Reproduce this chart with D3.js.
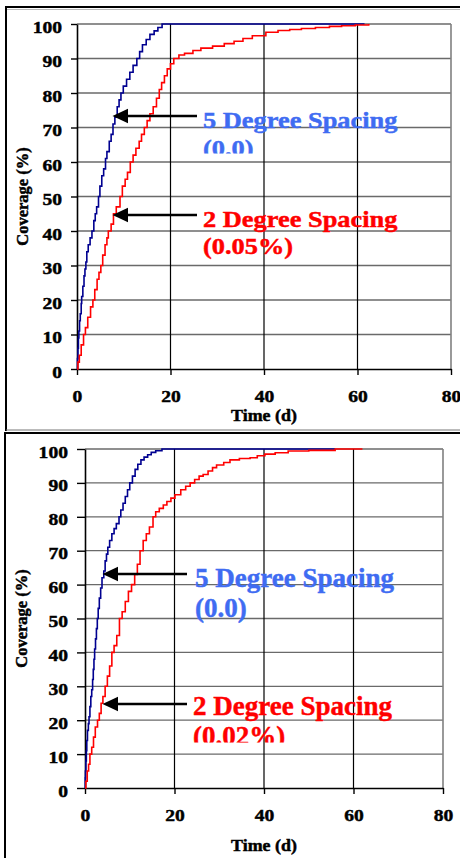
<!DOCTYPE html>
<html>
<head>
<meta charset="utf-8">
<script src="https://cdn.jsdelivr.net/npm/d3@7"></script>
<style>
  html, body { margin: 0; padding: 0; background: #fff; }
  svg { display: block; }
  text { font-family: "Liberation Serif", "Times New Roman", serif; font-weight: bold; }
</style>
</head>
<body>
<svg id="chart" width="460" height="858"></svg>
<script>
// ---------- DATA ----------
const timeTicks = [0, 20, 40, 60, 80];
const coverageTicks = [0, 10, 20, 30, 40, 50, 60, 70, 80, 90, 100];
const xTitle = "Time (d)";
const yTitle = "Coverage (%)";

// Panel 1 series: [time (d), coverage (%)]
const p1Blue = [[0,0],[0.1,3],[0.2,6],[0.3,9],[0.4,11],[0.55,14],[0.7,16],[0.9,19],[1.0,21],[1.25,24],[1.5,27],[1.7,29],[1.9,31],[2.1,34],[2.4,36],[2.8,38],[3.2,40],[3.6,43],[3.9,45],[4.2,47],[4.6,50],[4.9,53],[5.3,56],[5.7,58],[6.1,61],[6.4,63],[6.9,66],[7.3,68],[7.7,71],[8.1,73],[8.6,76],[9.0,78],[9.4,80],[9.9,82],[10.6,84],[11.3,86],[12.0,88],[12.8,90],[13.4,92],[14.0,94],[14.8,95.5],[15.6,97],[16.5,98],[17.3,99],[18.2,100],[61.5,100]];
const p1Red = [[0,0],[0.2,2],[0.5,4],[0.9,7],[1.4,10],[1.8,12],[2.3,15],[2.9,18],[3.4,20],[3.8,23],[4.3,26],[4.7,28],[5.1,30],[5.5,33],[6.0,36],[6.4,38],[6.7,40],[7.3,42],[7.8,45],[8.4,47],[9.2,50],[9.7,53],[10.3,55],[10.8,57],[11.4,60],[12.0,62],[12.6,64],[13.3,66],[13.8,68],[14.4,70],[15.0,72],[15.6,74],[16.3,76],[17.0,78.5],[17.6,81],[18.1,83],[18.7,85],[19.3,87],[20.0,88.5],[20.7,90],[21.8,91],[23.0,91.5],[24.8,92.3],[26.5,93],[29.0,93.6],[31.5,94.3],[33.6,95],[35.5,95.8],[37.5,96.6],[40.4,97.6],[43.0,98.1],[45.5,98.4],[48,98.7],[51,99.0],[54,99.3],[56.6,99.5],[59.5,99.7],[62.4,100]];
const p1BlueLabel = ["5 Degree Spacing", "(0.0)"];
const p1RedLabel = ["2 Degree Spacing", "(0.05%)"];

// Panel 2 series: [time (d), coverage (%)]
const p2Blue = [[0,0],[0.05,3],[0.1,5],[0.2,8],[0.3,11],[0.4,14],[0.55,17],[0.75,19],[0.9,21],[1.1,24],[1.3,27],[1.5,29],[1.7,32],[1.85,35],[2.0,38],[2.15,41],[2.35,44],[2.55,47],[2.75,50],[2.95,53],[3.2,56],[3.5,59],[3.8,62],[4.2,64],[4.5,67],[4.8,69],[5.1,71],[5.5,73],[6.0,75],[6.5,76.5],[7.0,78],[7.6,80],[8.0,82],[8.5,84],[9.0,86],[9.5,88],[10.0,90],[10.6,92],[11.2,94],[11.8,95.5],[12.5,96.8],[13.2,97.6],[14.0,98.3],[14.8,99.0],[15.8,99.5],[17.2,100],[55.9,100]];
const p2Red = [[0,0],[0.2,2],[0.5,5],[0.8,7],[1.1,10],[1.5,12],[1.9,15],[2.3,18],[2.8,20],[3.2,22],[3.6,25],[4.0,27],[4.5,30],[5.0,33],[5.5,36],[6.0,40],[6.5,42],[7.1,45],[7.7,50],[8.3,52],[9.0,55],[9.7,58],[10.4,60],[11.1,63],[11.7,66],[12.3,70],[13.0,73],[13.7,75],[14.4,77],[15.2,80],[15.8,81.5],[16.6,82.5],[17.5,83.5],[18.3,84.5],[19.2,85.5],[20.1,86.5],[21.4,88],[22.5,89],[23.5,90],[24.5,91],[25.5,92],[26.4,92.5],[27.5,93.5],[28.5,94.5],[29.4,95.3],[31.0,96],[32.4,96.8],[34.5,97.2],[36.9,97.4],[38.5,98.0],[40.2,98.5],[42.5,98.9],[45.4,99.4],[50,99.6],[55.9,100],[62,100]];
const p2BlueLabel = ["5 Degree Spacing", "(0.0)"];
const p2RedLabel = ["2 Degree Spacing", "(0.02%)"];

// ---------- STYLE / LAYOUT ----------
const NAVY = "#000090", RED = "#ff0000", LBLUE = "#3f6cf2";
const FONT = '"Liberation Serif", "Times New Roman", Tinos, serif';
const svg = d3.select("#chart");

// outer frames
svg.append("path").attr("d", "M6,431 V7 H461").attr("fill", "none").attr("stroke", "#000").attr("stroke-width", 2);
svg.append("line").attr("x1", 7).attr("x2", 460).attr("y1", 9.5).attr("y2", 9.5).attr("stroke", "#bbb").attr("stroke-width", 1);
svg.append("line").attr("x1", 6).attr("x2", 460).attr("y1", 430).attr("y2", 430).attr("stroke", "#777").attr("stroke-width", 1);
svg.append("path").attr("d", "M5,859 V433 H461").attr("fill", "none").attr("stroke", "#000").attr("stroke-width", 2);

function heavy(sel, color) {
  return sel.attr("font-family", FONT).attr("font-weight", "bold")
    .attr("fill", color).attr("stroke", color).attr("stroke-width", 0.45);
}

let clipId = 0;
function drawPanel(cfg) {
  const x = d3.scaleLinear().domain([0, 80]).range([cfg.x0, cfg.x1]);
  const y = d3.scaleLinear().domain([0, 100]).range([cfg.y0, cfg.y1]);
  const g = svg.append("g");

  // horizontal grid
  g.append("g").selectAll("line").data(coverageTicks.slice(1)).join("line")
    .attr("x1", cfg.x0).attr("x2", cfg.x1)
    .attr("y1", d => y(d)).attr("y2", d => y(d))
    .attr("stroke", "#6a6a6a").attr("stroke-width", 1.3);
  // vertical grid
  g.append("g").selectAll("line").data(timeTicks.slice(1, -1)).join("line")
    .attr("x1", d => x(d)).attr("x2", d => x(d))
    .attr("y1", cfg.y1).attr("y2", cfg.y0)
    .attr("stroke", "#000").attr("stroke-width", 1.2);
  // right border
  g.append("line").attr("x1", cfg.x1).attr("x2", cfg.x1).attr("y1", cfg.y1).attr("y2", cfg.y0)
    .attr("stroke", "#808080").attr("stroke-width", 1.6);

  // axes
  const yAxis = g.append("g").attr("transform", `translate(${cfg.x0},0)`)
    .call(d3.axisLeft(y).tickValues(coverageTicks).tickSize(cfg.yTick).tickPadding(cfg.yPad).tickSizeOuter(0));
  yAxis.selectAll("text").attr("dy", "0.46em");
  const xAxis = g.append("g").attr("transform", `translate(0,${cfg.y0})`)
    .call(d3.axisBottom(x).tickValues(timeTicks).tickSize(6).tickPadding(15).tickSizeOuter(0));
  [yAxis, xAxis].forEach(a => {
    a.select(".domain").attr("stroke", "#000").attr("stroke-width", 1.6);
    a.selectAll(".tick line").attr("stroke", "#000").attr("stroke-width", 1.4);
    heavy(a.selectAll("text").attr("font-size", 17.5), "#000")
      .attr("transform", "scale(1.12,1)");
  });

  // axis titles
  heavy(g.append("text").attr("transform", `translate(${(cfg.x0 + cfg.x1) / 2},${cfg.xTitleY}) scale(1.12,1)`)
    .attr("text-anchor", "middle").attr("font-size", 16).text(xTitle), "#000");
  heavy(g.append("text").attr("transform", `translate(${cfg.yTitleX},${(cfg.y0 + cfg.y1) / 2}) rotate(-90)`)
    .attr("text-anchor", "middle").attr("font-size", 16.5).text(yTitle), "#000");

  // curves
  const line = d3.line().x(d => x(d[0])).y(d => y(d[1])).curve(d3.curveStepAfter);
  g.append("path").datum(cfg.blue).attr("d", line).attr("fill", "none").attr("stroke", NAVY).attr("stroke-width", 1.6);
  g.append("path").datum(cfg.red).attr("d", line).attr("fill", "none").attr("stroke", RED).attr("stroke-width", 1.6);

  // arrows + labels
  cfg.notes.forEach(n => {
    const tipX = n.tipX, ay = n.arrowY;
    g.append("line").attr("x1", tipX + 12).attr("x2", n.tailX).attr("y1", ay).attr("y2", ay)
      .attr("stroke", "#000").attr("stroke-width", 2.6);
    g.append("path").attr("d", `M${tipX},${ay} L${tipX + 15.5},${ay - 7.3} L${tipX + 15.5},${ay + 7.3} Z`).attr("fill", "#000");

    let tg = g.append("g");
    if (n.clipY) {
      const id = "clip" + (clipId++);
      svg.append("clipPath").attr("id", id).append("rect")
        .attr("x", 0).attr("y", 0).attr("width", 460).attr("height", n.clipY);
      tg = g.append("g").attr("clip-path", `url(#${id})`);
    }
    n.lines.forEach((t, i) => {
      heavy(tg.append("text")
        .attr("transform", `translate(${n.textX},${n.textY + i * n.lh}) scale(${n.sx},1)`)
        .attr("font-size", n.fs).text(t), n.color);
    });
  });
}

drawPanel({
  x0: 77, x1: 451, y0: 369, y1: 24, yTick: 6, yPad: 7.4, xTitleY: 421, yTitleX: 28,
  blue: p1Blue, red: p1Red,
  notes: [
    { tipX: 112.5, tailX: 197, arrowY: 116, textX: 203, textY: 128, lh: 28, lines: p1BlueLabel, color: LBLUE, fs: 24, sx: 1.1, clipY: 153.5 },
    { tipX: 112.5, tailX: 197, arrowY: 215, textX: 203, textY: 227, lh: 27, lines: p1RedLabel, color: RED, fs: 24, sx: 1.1 }
  ]
});

drawPanel({
  x0: 85, x1: 443, y0: 788, y1: 449, yTick: 8, yPad: 7.2, xTitleY: 851, yTitleX: 27,
  blue: p2Blue, red: p2Red,
  notes: [
    { tipX: 102.5, tailX: 187, arrowY: 574, textX: 195, textY: 587, lh: 30, lines: p2BlueLabel, color: LBLUE, fs: 27, sx: 1.0 },
    { tipX: 102.5, tailX: 187, arrowY: 704, textX: 193, textY: 715, lh: 30, lines: p2RedLabel, color: RED, fs: 27, sx: 1.0, clipY: 742.5 }
  ]
});
</script>
</body>
</html>
